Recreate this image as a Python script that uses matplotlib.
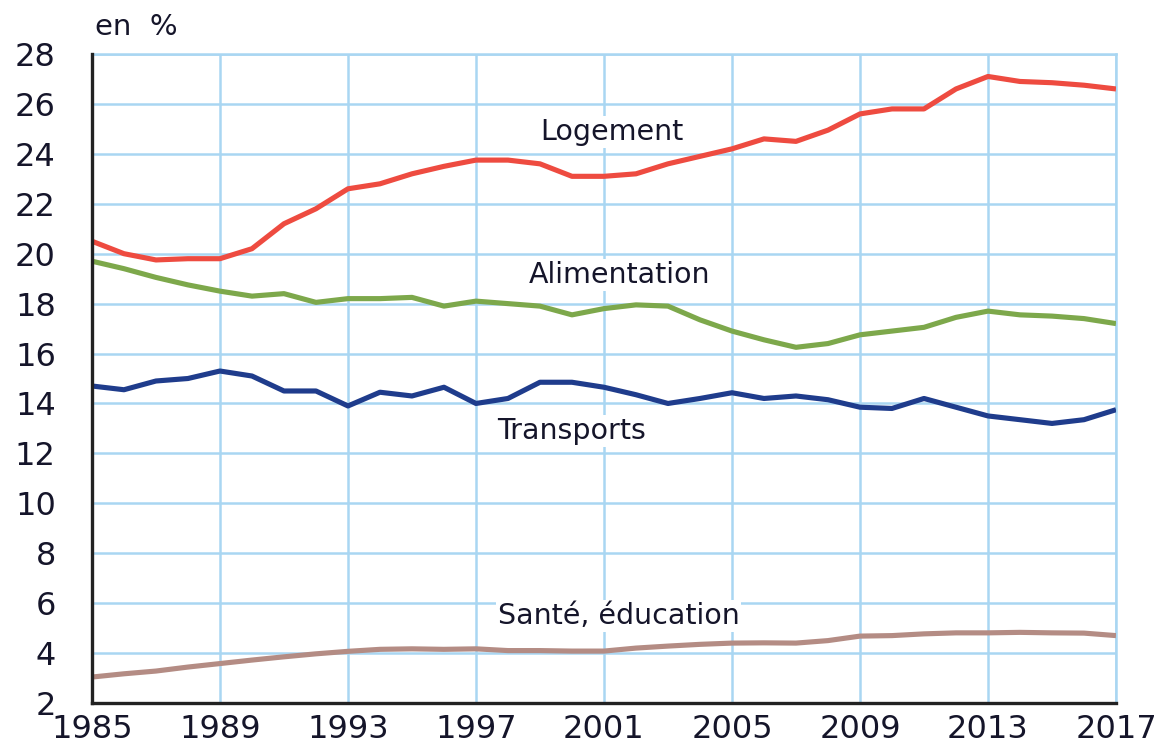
import matplotlib
matplotlib.use("Agg")
import matplotlib.pyplot as plt

years = list(range(1985, 2018))

logement = [20.5, 20.0, 19.75, 19.8, 19.8, 20.2, 21.2, 21.8, 22.6, 22.8, 23.2, 23.5, 23.75,
            23.75, 23.6, 23.1, 23.1, 23.2, 23.6, 23.9, 24.2, 24.6, 24.5, 24.95, 25.6, 25.8,
            25.8, 26.6, 27.1, 26.9, 26.85, 26.75, 26.6]
alimentation = [19.7, 19.4, 19.05, 18.75, 18.5, 18.3, 18.4, 18.05, 18.2, 18.2, 18.25, 17.9, 18.1,
                18.0, 17.9, 17.55, 17.8, 17.95, 17.9, 17.35, 16.9, 16.55, 16.25, 16.4, 16.75, 16.9,
                17.05, 17.45, 17.7, 17.55, 17.5, 17.4, 17.2]
transports = [14.7, 14.55, 14.9, 15.0, 15.3, 15.1, 14.5, 14.5, 13.9, 14.45, 14.3, 14.65, 14.0,
              14.2, 14.85, 14.85, 14.65, 14.35, 14.0, 14.2, 14.43, 14.2, 14.3, 14.15, 13.85, 13.8,
              14.2, 13.85, 13.5, 13.35, 13.2, 13.35, 13.75]
sante = [3.04, 3.17, 3.28, 3.44, 3.58, 3.72, 3.85, 3.97, 4.07, 4.15, 4.17, 4.15, 4.17,
         4.1, 4.1, 4.08, 4.08, 4.2, 4.28, 4.35, 4.4, 4.41, 4.4, 4.5, 4.68, 4.7,
         4.77, 4.81, 4.81, 4.83, 4.81, 4.8, 4.7]

series_names = ["Logement", "Alimentation", "Transports", "Santé, éducation"]
x_ticks = list(range(1985, 2018, 4))
y_ticks = list(range(2, 29, 2))

colors = ["#EE4B40", "#7DA84B", "#1F3C8C", "#B48C84"]
grid_col = "#A9D6F2"
text_col = "#15152a"

plt.rcParams['font.family'] = ['DejaVu Sans']
fig = plt.figure(figsize=(11.67, 7.47), dpi=100)
ax = fig.add_axes([0.0788, 0.0589, 0.9563 - 0.0788, 0.9277 - 0.0589])

for data, c in zip([logement, alimentation, transports, sante], colors):
    ax.plot(years, data, color=c, lw=3.7, solid_capstyle='butt', zorder=3)

ax.set_xlim(1985, 2017)
ax.set_ylim(2, 28)
ax.set_xticks(x_ticks)
ax.set_yticks(y_ticks)
ax.grid(True, color=grid_col, lw=1.8, zorder=0)
ax.set_axisbelow(True)
ax.tick_params(axis='both', length=0, labelsize=23, labelcolor=text_col)
ax.tick_params(axis='y', pad=26)
ax.tick_params(axis='x', pad=8)

for s in ['top', 'right']:
    ax.spines[s].set_color(grid_col)
    ax.spines[s].set_linewidth(1.8)
for s in ['left', 'bottom']:
    ax.spines[s].set_color('#222222')
    ax.spines[s].set_linewidth(2.4)
    ax.spines[s].set_zorder(5)

label_pos = [(2001.25, 24.88), (2001.5, 19.16), (2000.0, 12.88), (2001.45, 5.48)]
for name, (lx, ly) in zip(series_names, label_pos):
    ax.text(lx, ly, name, fontsize=20.5, color=text_col, ha='center', va='center', zorder=4,
            bbox=dict(facecolor='white', edgecolor='none', pad=1.5))

fig.text(95 / 1167, 1 - 27 / 747, "en  %", fontsize=21, ha='left', va='center', color=text_col)

fig.savefig("out.png", dpi=100)
